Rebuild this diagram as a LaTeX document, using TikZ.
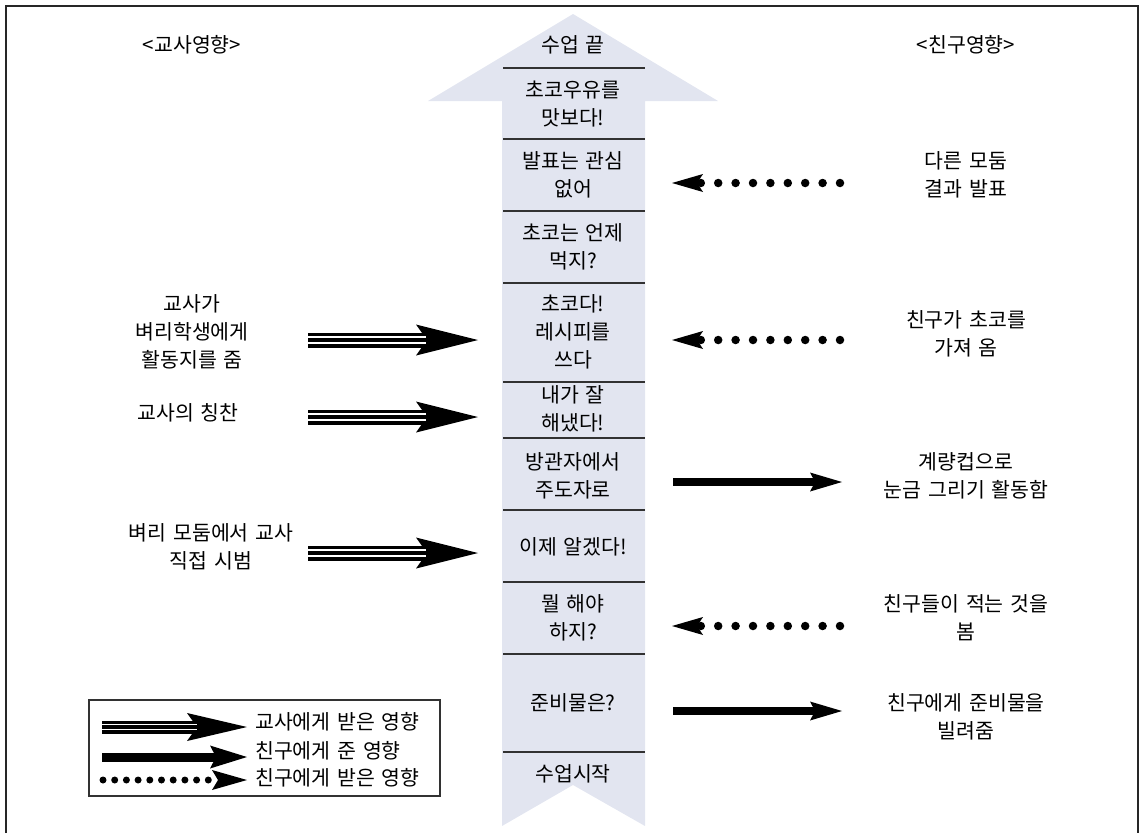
\documentclass[tikz,border=0pt]{standalone}
\usepackage{fontspec}
\setmainfont{Noto Sans CJK KR}
\usetikzlibrary{arrows.meta}
\definecolor{flowfill}{RGB}{226,229,240}
\definecolor{rulegray}{RGB}{50,50,50}
\newcommand{\kfont}{\fontsize{20.5}{28}\selectfont\spaceskip=0.33em plus 0.1em\relax}
\begin{document}
\begin{tikzpicture}[x=1pt,y=-1pt,
  txt/.style={align=center, inner sep=0pt, font=\kfont},
  legtxt/.style={anchor=west, inner sep=0pt, font=\kfont},
  sepline/.style={draw=rulegray, line width=1.3pt},
  teach/.style={line width=15pt,
    -{Stealth[length=62pt,width=31pt,inset=11pt,line width=0pt]},
    postaction={draw=white, line width=1.3pt, double=black, double distance=4.5pt, shorten >=52pt, -}},
  legteach/.style={line width=13pt,
    -{Stealth[length=60pt,width=28pt,inset=10pt,line width=0pt]},
    postaction={draw=white, line width=1.1pt, double=black, double distance=4pt, shorten >=50pt, -}},
  give/.style={line width=8pt, -{Stealth[length=32pt,width=19pt,inset=5pt,line width=0pt]}},
  leggive/.style={line width=9pt, -{Stealth[length=37pt,width=23pt,inset=6pt,line width=0pt]}},
  take/.style={line width=8.5pt, line cap=round, dash pattern=on 0pt off 17.4pt,
    -{Stealth[length=31pt,width=18pt,inset=6pt,line width=0pt]}},
  legtake/.style={line width=7pt, line cap=round, dash pattern=on 0pt off 11.7pt,
    -{Stealth[length=35pt,width=20pt,inset=6pt,line width=0pt]}},
]
\useasboundingbox (0,0) rectangle (1140,833);

% page frame (open at the bottom)
\draw[line width=2.5pt, draw=black!85] (6,833) -- (6,6) -- (1138,6) -- (1138,833);

% the upward lesson arrow
\fill[flowfill] (573,14) -- (718,101) -- (645,101) -- (645,826) -- (573,785)
  -- (502,826) -- (502,101) -- (428,101) -- cycle;

% cell separators
\foreach \yy in {68,139,211,283,382,438,510,582,654,752}
  \draw[sepline] (503,\yy) -- (645,\yy);

% cells of the lesson arrow
\node[txt] (sEnd)   at (573,45)  {수업 끝};
\node[txt] (sMilk)  at (573,104) {초코우유를\\맛보다!};
\node[txt] (sBored) at (573,175) {발표는 관심\\없어};
\node[txt] (sWhen)  at (573,247) {초코는 언제\\먹지?};
\node[txt] (sRecipe) at (573,332) {초코다!\\레시피를\\쓰다};
\node[txt] (sDone)  at (573,409) {내가 잘\\해냈다!};
\node[txt] (sLead)  at (573,476) {방관자에서\\주도자로};
\node[txt] (sGot)   at (573,547) {이제 알겠다!};
\node[txt] (sWhat)  at (573,618) {뭘 해야\\하지?};
\node[txt] (sPrep)  at (573,703) {준비물은?};
\node[txt] (sStart) at (573,774) {수업시작};

% column headings
\node[txt] (hTeach)  at (192,45) {<교사영향>};
\node[txt] (hFriend) at (966,45) {<친구영향>};

% teacher influences
\node[txt] (tSheet) at (192,332) {교사가\\벼리학생에게\\활동지를 줌};
\node[txt] (tPraise) at (188,413) {교사의 칭찬};
\node[txt] (tDemo) at (211,547) {벼리 모둠에서 교사\\직접 시범};

% friend influences
\node[txt] (fShow)  at (966,175) {다른 모둠\\결과 발표};
\node[txt] (fChoco) at (966,334) {친구가 초코를\\가져 옴};
\node[txt] (fCup)   at (966,476) {계량컵으로\\눈금 그리기 활동함};
\node[txt] (fWrite) at (966,618) {친구들이 적는 것을\\봄};
\node[txt] (fLend)  at (966,717) {친구에게 준비물을\\빌려줌};

% arrow end points
\coordinate (a1s) at (308,340); \coordinate (a1e) at (478,340);
\coordinate (a2s) at (308,417); \coordinate (a2e) at (478,417);
\coordinate (a3s) at (308,553); \coordinate (a3e) at (478,553);
\coordinate (b1s) at (840,183); \coordinate (b1e) at (672,183);
\coordinate (b2s) at (840,340); \coordinate (b2e) at (672,340);
\coordinate (b3s) at (840,626); \coordinate (b3e) at (672,626);
\coordinate (c1s) at (673,482); \coordinate (c1e) at (842,482);
\coordinate (c2s) at (673,711); \coordinate (c2e) at (842,711);

\draw[teach] (a1s) -- (a1e);
\draw[teach] (a2s) -- (a2e);
\draw[teach] (a3s) -- (a3e);
\draw[take] (b1s) -- (b1e);
\draw[take] (b2s) -- (b2e);
\draw[take] (b3s) -- (b3e);
\draw[give] (c1s) -- (c1e);
\draw[give] (c2s) -- (c2e);

% legend
\draw[line width=1.4pt, draw=rulegray] (89,700) rectangle (440,796);
\coordinate (l1s) at (102,727); \coordinate (l1e) at (247,727);
\coordinate (l2s) at (102,757); \coordinate (l2e) at (247,757);
\coordinate (l3s) at (103,780); \coordinate (l3e) at (247,780);
\draw[legteach] (l1s) -- (l1e);
\draw[leggive] (l2s) -- (l2e);
\draw[legtake] (l3s) -- (l3e);
\node[legtxt] (lTeach) at (255,722) {교사에게 받은 영향};
\node[legtxt] (lGive)  at (255,751) {친구에게 준 영향};
\node[legtxt] (lTake)  at (255,778) {친구에게 받은 영향};
\end{tikzpicture}
\end{document}
